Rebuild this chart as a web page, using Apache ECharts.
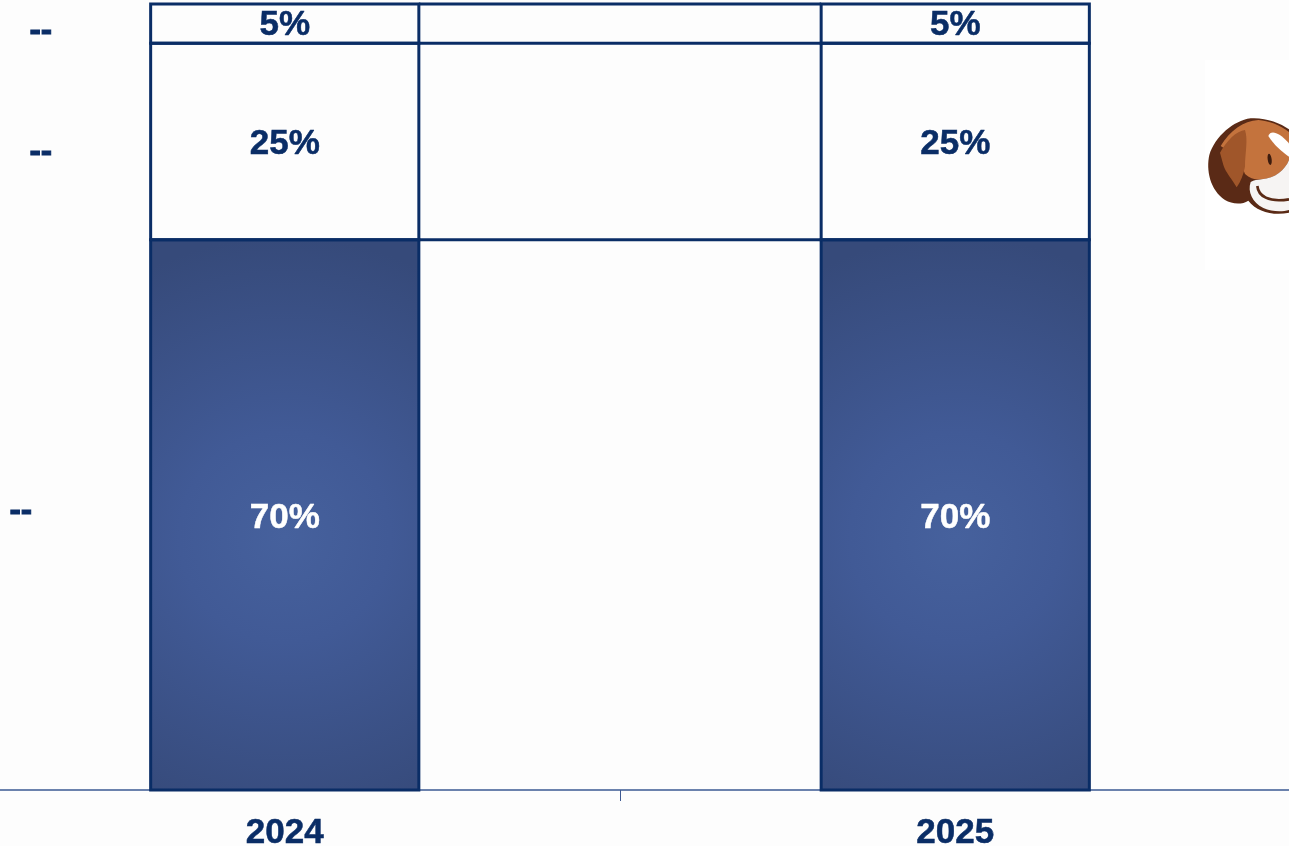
<!DOCTYPE html>
<html>
<head>
<meta charset="utf-8">
<style>html,body{margin:0;padding:0;background:#fdfdfd;overflow:hidden}#c{width:1289px;height:846px}</style>
<script src="https://cdn.jsdelivr.net/npm/echarts@6/dist/echarts.min.js"></script>
</head>
<body>
<div id="c"></div>
<script>
const categories = ['2024', '2025'];
const lowerShare = [70, 70];
const middleShare = [25, 25];
const upperShare = [5, 5];
const legendMarks = ['--', '--', '--'];

const navy = '#0a2d66';
const font = '"Liberation Sans", Arial, sans-serif';
const mascot = `<svg xmlns="http://www.w3.org/2000/svg" viewBox="0 0 267 330" width="267" height="330">
<defs><filter id="b" x="-5%" y="-5%" width="110%" height="110%"><feGaussianBlur stdDeviation="1.4"/></filter></defs>
<g filter="url(#b)">
<path d="M152 25C100 32 45 80 28 135C18 180 30 240 75 270C95 282 125 285 145 272C170 305 220 318 267 308L267 58C240 38 195 22 152 25Z" fill="#5a2a14"/>
<path d="M62 108C90 62 130 32 175 30C205 32 240 45 267 66L267 150C255 180 225 205 185 208C165 210 150 205 135 192C125 160 95 130 62 108Z" fill="#c4733e"/>
<path d="M60 128C80 92 110 62 135 60C145 90 135 130 135 170C130 195 122 215 110 232C95 205 78 190 70 165Z" fill="#a0562a"/>
<path d="M205 78C212 60 235 65 267 100L267 140C245 125 222 105 205 78Z" fill="#fff"/>
<ellipse cx="209" cy="148" rx="6" ry="17" fill="#3c1c10" transform="rotate(-8 209 148)"/>
<path d="M152 216C142 245 157 278 190 294C215 305 245 306 267 300L267 150C255 180 225 205 185 208C172 210 162 210 152 216Z" fill="#f6f4f3"/>
<path d="M172 228C175 258 205 278 267 268" fill="none" stroke="#5a2a14" stroke-width="8"/>
</g>
</svg>`;

const barBase = { type: 'bar', stack: 'share', barWidth: '40%' };
const percent = p => p.value + '%';
const valueLabel = (color, dy) => ({
  show: true, position: 'inside', formatter: percent, color, offset: [0, dy],
  fontFamily: font, fontWeight: 'bold', fontSize: 35, textBorderColor: color, textBorderWidth: 0.5
});
// one outlined cell per category and stack segment: [category, from, to]
const cells = categories.flatMap((_, i) => [
  [i, 0, lowerShare[i]],
  [i, lowerShare[i], lowerShare[i] + middleShare[i]],
  [i, lowerShare[i] + middleShare[i], lowerShare[i] + middleShare[i] + upperShare[i]]
]);
const boundaries = categories.slice(0, -1).flatMap((_, i) => [
  [i, lowerShare[i], lowerShare[i + 1]],
  [i, lowerShare[i] + middleShare[i], lowerShare[i + 1] + middleShare[i + 1]],
  [i, lowerShare[i] + middleShare[i] + upperShare[i], lowerShare[i + 1] + middleShare[i + 1] + upperShare[i + 1]]
]);

const chart = echarts.init(document.getElementById('c'), null, { renderer: 'canvas' });
chart.setOption({
  animation: false,
  backgroundColor: '#fdfdfd',
  grid: { left: -50.5, top: 4, width: 1341, height: 786, containLabel: false, outerBoundsMode: 'none' },
  xAxis: {
    type: 'category', data: categories,
    axisLine: { lineStyle: { color: '#6b82ad', width: 2 } },
    axisTick: { show: true, alignWithLabel: false, length: 11, lineStyle: { color: '#3f5a92', width: 1 } },
    axisLabel: { margin: 26, color: navy, fontFamily: font, fontWeight: 'bold', fontSize: 35, textBorderColor: navy, textBorderWidth: 0.5 }
  },
  yAxis: { type: 'value', min: 0, max: 100, show: false, splitLine: { show: false } },
  series: [
    Object.assign({}, barBase, {
      name: 'lower', data: lowerShare,
      itemStyle: {
        color: { type: 'radial', x: 0.5, y: 0.54, r: 1.12,
          colorStops: [{ offset: 0, color: '#46619d' }, { offset: 0.35, color: '#415a96' }, { offset: 1, color: '#364a7a' }] }
      },
      label: valueLabel('#ffffff', 3)
    }),
    Object.assign({}, barBase, {
      name: 'middle', data: middleShare, itemStyle: { color: '#fdfdfd' }, label: valueLabel(navy, 3)
    }),
    Object.assign({}, barBase, {
      name: 'upper', data: upperShare, itemStyle: { color: '#fdfdfd' }, label: valueLabel(navy, 2)
    }),
    {
      type: 'custom', name: 'outlines', data: cells, silent: true, z: 3,
      encode: { x: 0, y: [1, 2] },
      renderItem(params, api) {
        const half = api.size([1, 0])[0] * 0.2;
        const a = api.coord([api.value(0), api.value(1)]);
        const b = api.coord([api.value(0), api.value(2)]);
        return { type: 'rect', shape: { x: a[0] - half, y: b[1], width: half * 2, height: a[1] - b[1] },
          style: { fill: 'none', stroke: navy, lineWidth: 3 } };
      }
    },
    {
      type: 'custom', name: 'connectors', data: boundaries, silent: true, z: 3,
      encode: { x: 0, y: 1 },
      renderItem(params, api) {
        const half = api.size([1, 0])[0] * 0.2;
        const a = api.coord([api.value(0), api.value(1)]);
        const b = api.coord([api.value(0) + 1, api.value(2)]);
        return { type: 'line', shape: { x1: a[0] + half, y1: a[1], x2: b[0] - half, y2: b[1] },
          style: { stroke: navy, lineWidth: 3 } };
      }
    }
  ],
  graphic: [
    { type: 'text', left: 29, top: 14, style: { text: legendMarks[0], fill: navy, stroke: navy, lineWidth: 1, font: 'bold 34px ' + font } },
    { type: 'text', left: 29, top: 135, style: { text: legendMarks[1], fill: navy, stroke: navy, lineWidth: 1, font: 'bold 34px ' + font } },
    { type: 'text', left: 9, top: 494, style: { text: legendMarks[2], fill: navy, stroke: navy, lineWidth: 1, font: 'bold 34px ' + font } },
    { type: 'rect', left: 1205, top: 60, shape: { width: 84, height: 210 }, style: { fill: '#ffffff' }, z: -1 },
    { type: 'image', left: 1200, top: 110, style: { image: 'data:image/svg+xml;charset=utf-8,' + encodeURIComponent(mascot), width: 89, height: 110 } }
  ]
});
</script>
</body>
</html>
